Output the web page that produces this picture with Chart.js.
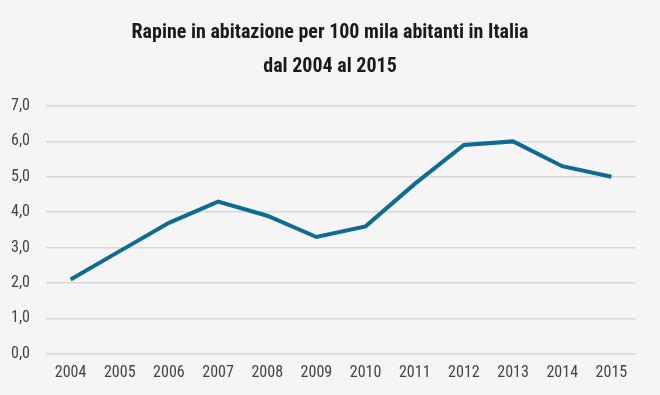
<!DOCTYPE html>
<html>
<head>
<meta charset="utf-8">
<script src="https://cdn.jsdelivr.net/npm/chart.js@4"></script>
<style>
  html, body { margin: 0; padding: 0; background: #f5f5f5; }
  #wrap { width: 660px; height: 395px; }
</style>
</head>
<body>
<div id="wrap"><canvas id="chartRapine"></canvas></div>
<script>
const anni = ["2004", "2005", "2006", "2007", "2008", "2009", "2010", "2011", "2012", "2013", "2014", "2015"];
const rapine = [2.1, 2.9, 3.7, 4.3, 3.9, 3.3, 3.6, 4.8, 5.9, 6.0, 5.3, 5.0];
const titolo = ["Rapine in abitazione per 100 mila abitanti in Italia", "dal 2004 al 2015"];

// centre the title on the whole canvas, not on the padded box
const titoloCentrato = {
    id: 'titoloCentrato',
    afterLayout: function (chart) {
        const t = chart.titleBlock;
        if (t) { t.left = 0; t.right = chart.width; t.width = chart.width; }
    }
};

const ctx = document.getElementById("chartRapine").getContext("2d");

const chartRapine = new Chart(ctx, {
    type: 'line',
    data: {
        labels: anni,
        datasets: [{
            data: rapine,
            borderColor: "#0f6b93",
            borderWidth: 4,
            pointRadius: 0,
            tension: 0,
            fill: false
        }]
    },
    options: {
        responsive: true,
        maintainAspectRatio: false,
        animation: false,
        layout: { padding: { left: 4, right: 24, top: 16, bottom: 10 } },
        plugins: {
            legend: { display: false },
            tooltip: { enabled: false },
            title: {
                display: true,
                text: titolo,
                color: "#1a1a1a",
                font: { family: "'Roboto Condensed', sans-serif", size: 20, weight: 'bold', lineHeight: 1.7 },
                padding: { top: 0, bottom: 22 }
            }
        },
        scales: {
            x: {
                offset: true,
                grid: { display: false },
                border: { display: false },
                ticks: { color: "#444", font: { family: "'Roboto Condensed', sans-serif", size: 16 }, padding: 2, maxRotation: 0 }
            },
            y: {
                min: 0,
                max: 7,
                afterFit: function (scale) { scale.width = 42; },
                grid: { color: "#d8d8d8", lineWidth: 1.5, drawTicks: false },
                border: { display: false },
                ticks: {
                    stepSize: 1,
                    color: "#444",
                    padding: 16,
                    font: { family: "'Roboto Condensed', sans-serif", size: 16 },
                    callback: function (v) { return v.toFixed(1).replace('.', ','); }
                }
            }
        }
    },
    plugins: [titoloCentrato]
});
</script>
</body>
</html>
